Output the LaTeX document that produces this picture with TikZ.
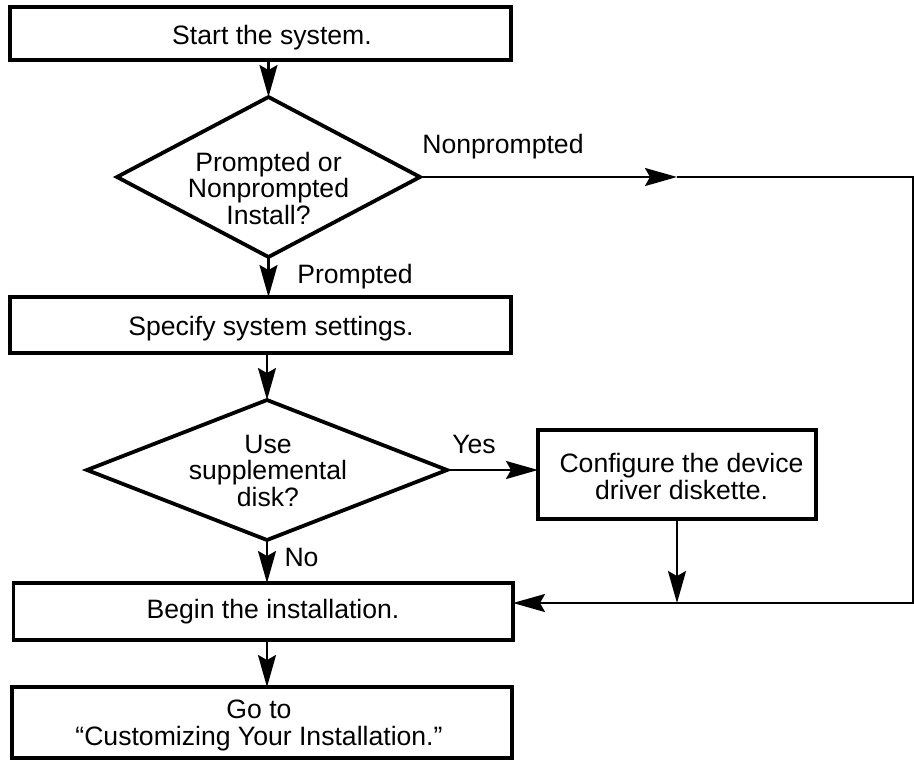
\documentclass[tikz,border=0pt]{standalone}
\usepackage{fontspec}
\setmainfont{Liberation Sans}
\usetikzlibrary{shapes.geometric,arrows.meta}
\tikzset{
  stepbox/.style={draw, line width=3.4pt, rectangle, inner sep=0pt, outer sep=0pt},
  decision/.style={draw, line width=3.8pt, diamond, inner sep=0pt, outer sep=0pt},
  txt/.style={inner sep=0pt, outer sep=0pt, align=center, anchor=base,
    font=\fontsize{26.6}{26.5}\selectfont},
  conn/.style={line width=2.2pt},
  tip/.style={-{Stealth[length=32pt,width=18pt,inset=5pt]}},
}
\begin{document}
\begin{tikzpicture}[x=1pt,y=-1pt]
\useasboundingbox (0,0) rectangle (914,761);
% shapes
\node[stepbox, minimum width=501pt, minimum height=53pt] (start) at (260.5,33.5) {};
\node[decision, minimum width=303pt, minimum height=160pt] (d1) at (268.5,177) {};
\node[stepbox, minimum width=501pt, minimum height=56pt] (spec) at (260.5,325) {};
\node[decision, minimum width=360pt, minimum height=140pt] (d2) at (267,470) {};
\node[stepbox, minimum width=278pt, minimum height=89pt] (conf) at (677,474.5) {};
\node[stepbox, minimum width=499.5pt, minimum height=57pt] (begin) at (263.25,611.5) {};
\node[stepbox, minimum width=500pt, minimum height=71pt] (goto) at (262,722.5) {};
% texts (base = baseline of the last line)
\node[txt] (startT) at (272,44) {Start the system.};
\node[txt] (d1T) at (268.5,224) {Prompted or\\Nonprompted\\Install?};
\node[txt] (specT) at (271,335) {Specify system settings.};
\node[txt] (d2T) at (268,506) {Use\\supplemental\\disk?};
\node[txt] (confT) at (681.5,499) {Configure the device\\driver diskette.};
\node[txt] (beginT) at (273,618) {Begin the installation.};
\node[txt] (gotoT) at (259,745) {Go to\\“Customizing Your Installation.”};
% labels
\node[txt] (lNon) at (503,153) {Nonprompted};
\node[txt] (lPro) at (355,283) {Prompted};
\node[txt] (lYes) at (474,453) {Yes};
\node[txt] (lNo) at (301.5,566) {No};
% helper coordinates
\coordinate (mA) at (677,177);
\coordinate (tr) at (913,177);
\coordinate (br) at (913,603);
% connectors
\draw[conn,tip] (start.south -| d1.north) -- (d1.north);
\draw[conn,tip] (d1.south) -- (d1.south |- spec.north);
\draw[conn,tip] (spec.south -| d2.north) -- (d2.north);
\draw[conn,tip] (d2.south) -- (d2.south |- begin.north);
\draw[conn,tip] (begin.south -| d2.south) -- (goto.north -| d2.south);
\draw[conn,tip] (d2.east) -- (d2.east -| conf.west);
\draw[conn,tip] (conf.south) -- (conf.south |- br);
\draw[conn,tip] (d1.east) -- (mA);
\draw[conn,tip] (mA) -- (tr) -- (br) -- (begin.east |- br);
\end{tikzpicture}
\end{document}
